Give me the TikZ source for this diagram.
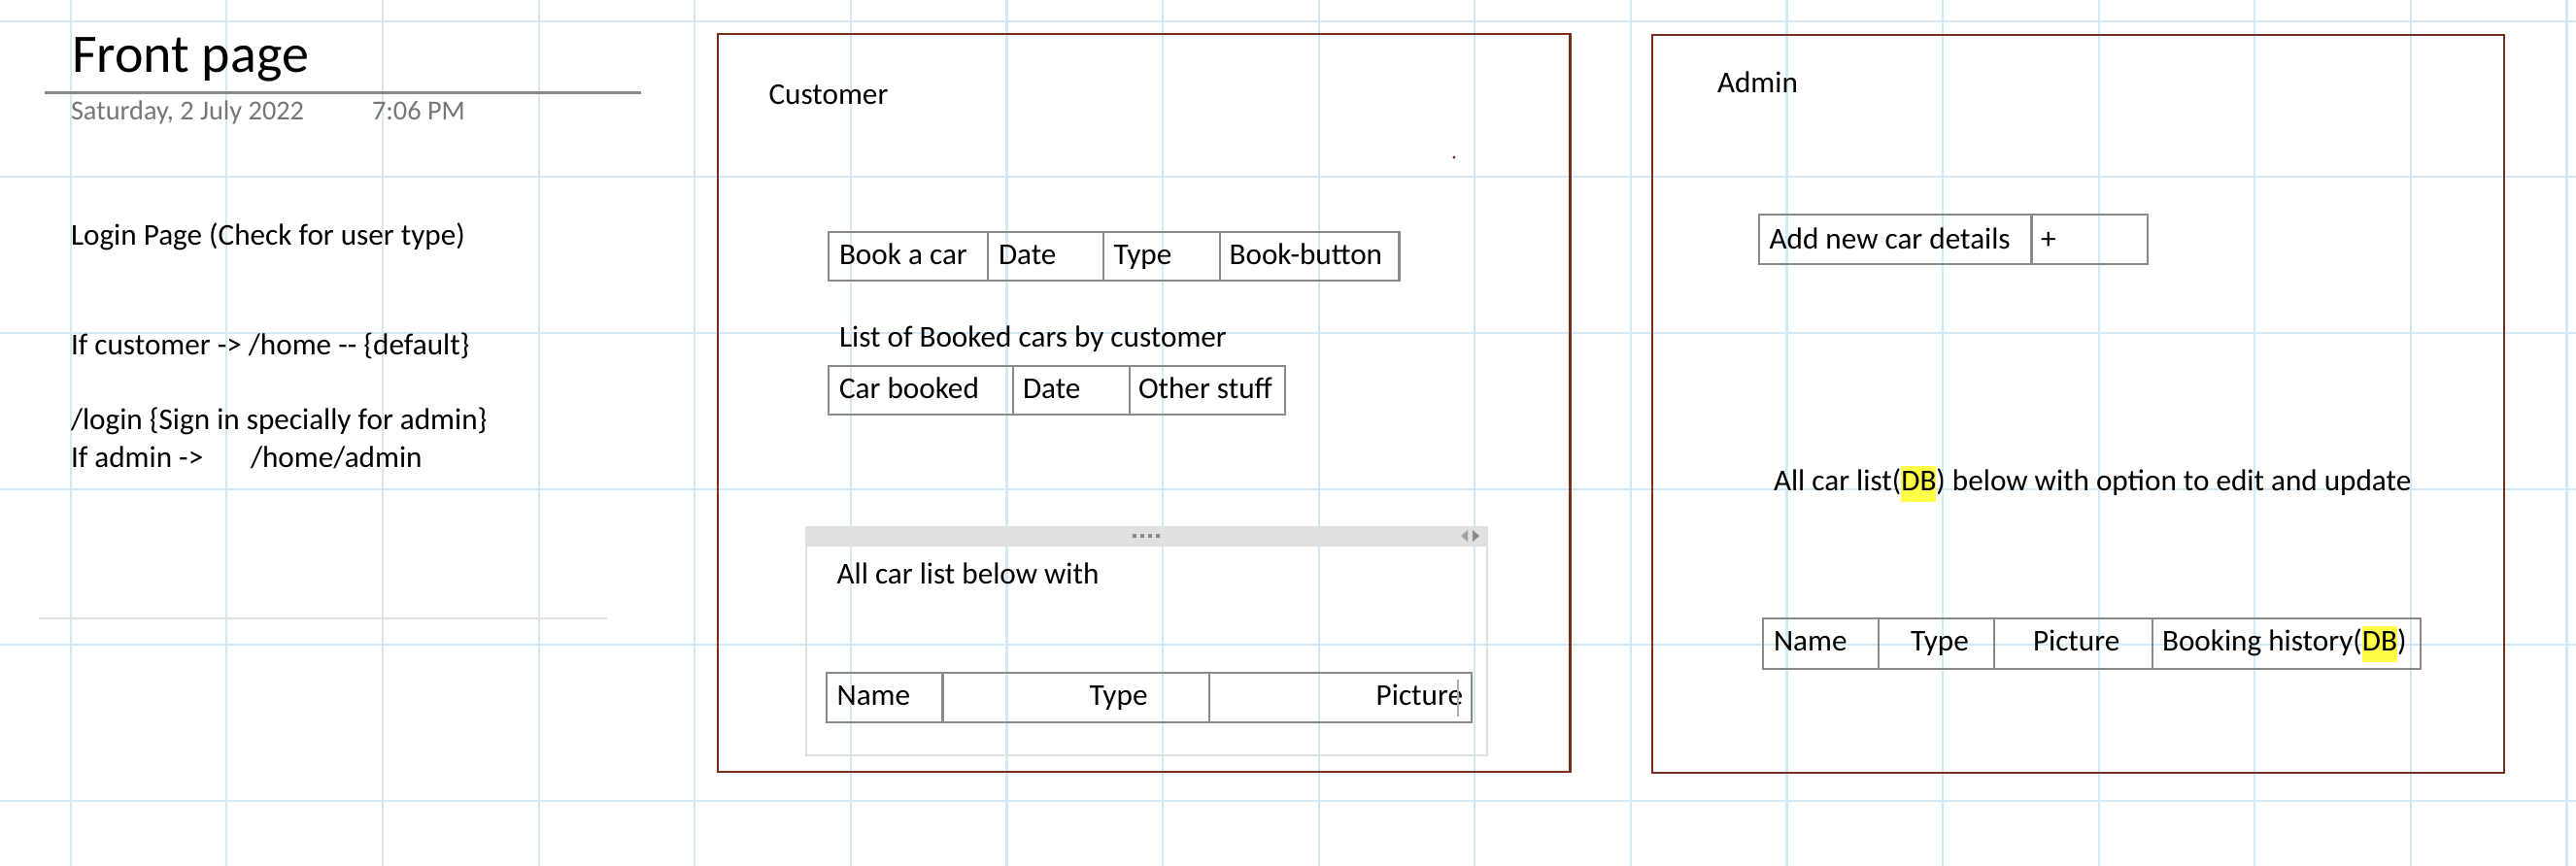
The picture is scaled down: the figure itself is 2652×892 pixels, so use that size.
\documentclass[tikz,border=0pt]{standalone}
\usepackage{fontspec}
\setmainfont{Carlito}
\definecolor{gridblue}{HTML}{D3E9F8}
\definecolor{boxred}{HTML}{7B2D1E}
\definecolor{cellgray}{HTML}{8A8A8A}
\definecolor{panegray}{HTML}{E0E0E0}
\definecolor{dategray}{HTML}{767676}
\definecolor{hlyellow}{HTML}{FFFF47}
\newcommand{\hlDB}[1]{{\setlength{\fboxsep}{0pt}\colorbox{hlyellow}{\strut #1}}}

\begin{document}
\begin{tikzpicture}[x=0.01cm, y=-0.01cm,
        every node/.style={inner sep=0pt, outer sep=0pt, anchor=base west, font=\fontsize{8.87}{10.6}\selectfont},
        gridline/.style={gridblue, line width=0.62pt},
        page/.style={boxred, line width=0.75pt},
        cell/.style={cellgray, line width=0.72pt}]
        \useasboundingbox (0,0) rectangle (2652,892);
        % note paper grid
        \foreach \k in {0,...,16} {
                \draw[gridline] (72.8+160.6*\k,0) -- (72.8+160.6*\k,892);
            }
        \foreach \k in {0,...,5} {
                \draw[gridline] (0,21.8+160.6*\k) -- (2652,21.8+160.6*\k);
            }

        % front page notes
        \node[font=\fontsize{15.9}{19}\selectfont] (title) at (74,75) {Front page};
        \draw[cellgray, line width=0.77pt] (46,95.7) -- (660,95.7);
        \node[font=\fontsize{8.05}{9.6}\selectfont, dategray] (date) at (73,124) {Saturday, 2 July 2022};
        \node[font=\fontsize{8.05}{9.6}\selectfont, dategray] (time) at (383,124) {7:06 PM};
        \node (login) at (73,253) {Login Page (Check for user type)};
        \node (ifcust) at (73,366) {If customer -> /home -{}- \{default\}};
        \node (signin) at (73,443) {/login \{Sign in specially for admin\}};
        \node (ifadm) at (73,482) {If admin ->};
        \node (homeadm) at (258,482) {/home/admin};
        \draw[panegray, line width=0.3pt] (40,637) -- (625,637);

        % customer page
        \draw[page] (739,35) rectangle (1616.5,795);
        \node (custlbl) at (791.6,108) {Customer};
        \fill[boxred] (1497,162) circle (1.6);
        \draw[cell] (853,239) rectangle (1440.5,289);
        \foreach \x in {1017,1136,1256} {
                \draw[cell] (\x,239) -- (\x,289);
            }
        \node (bookcar) at (864,273) {Book a car};
        \node (bdate) at (1028,273) {Date};
        \node (btype) at (1146.5,273) {Type};
        \node (bbutton) at (1265.6,273) {Book-button};
        \node (booked) at (864,358) {List of Booked cars by customer};
        \draw[cell] (853,377) rectangle (1323,427);
        \foreach \x in {1043,1163} {
                \draw[cell] (\x,377) -- (\x,427);
            }
        \node (carbkd) at (864,411) {Car booked};
        \node (ldate) at (1053,411) {Date};
        \node (lother) at (1172,411) {Other stuff};

        % embedded pane with car list
        \fill[panegray] (830,543) rectangle (1531,563);
        \draw[panegray, line width=0.57pt] (830,543) rectangle (1531,778);
        \foreach \x in {1168,1176,1184,1192} {
                \fill[cellgray] (\x-2,550) rectangle (\x+2,554);
            }
        \fill[cellgray!80] (1504,552) -- (1511,546) -- (1511,558) -- cycle;
        \fill[cellgray] (1523,552) -- (1516,546) -- (1516,558) -- cycle;
        \node (carlist) at (861.6,602) {All car list below with};
        \draw[cell] (851,693) rectangle (1515,744);
        \foreach \x in {970.6,1245} {
                \draw[cell] (\x,693) -- (\x,744);
            }
        \node (cname) at (861.6,727) {Name};
        \node[anchor=base east] (ctype) at (1181.5,727) {Type};
        \node[anchor=base east] (cpic) at (1506,727) {Picture};
        \draw[cellgray!70, line width=0.3pt] (1501,700) -- (1501,738);

        % admin page
        \draw[page] (1701,36) rectangle (2578,796);
        \node (admlbl) at (1768,96) {Admin};
        \draw[cell] (1811,221) rectangle (2211,272);
        \draw[cell] (2091.6,221) -- (2091.6,272);
        \node (addcar) at (1821.6,257) {Add new car details};
        \node (plus) at (2101,257) {+};
        \node (dblist) at (1826,506) {All car list(\hlDB{DB}) below with option to edit and update};
        \draw[cell] (1815,637) rectangle (2492,689);
        \foreach \x in {1934,2053,2216} {
                \draw[cell] (\x,637) -- (\x,689);
            }
        \node (aname) at (1826,671) {Name};
        \node (atype) at (1967,671) {Type};
        \node (apic) at (2093,671) {Picture};
        \node (ahist) at (2226,671) {Booking history(\hlDB{DB})};
    \end{tikzpicture}
\end{document}
